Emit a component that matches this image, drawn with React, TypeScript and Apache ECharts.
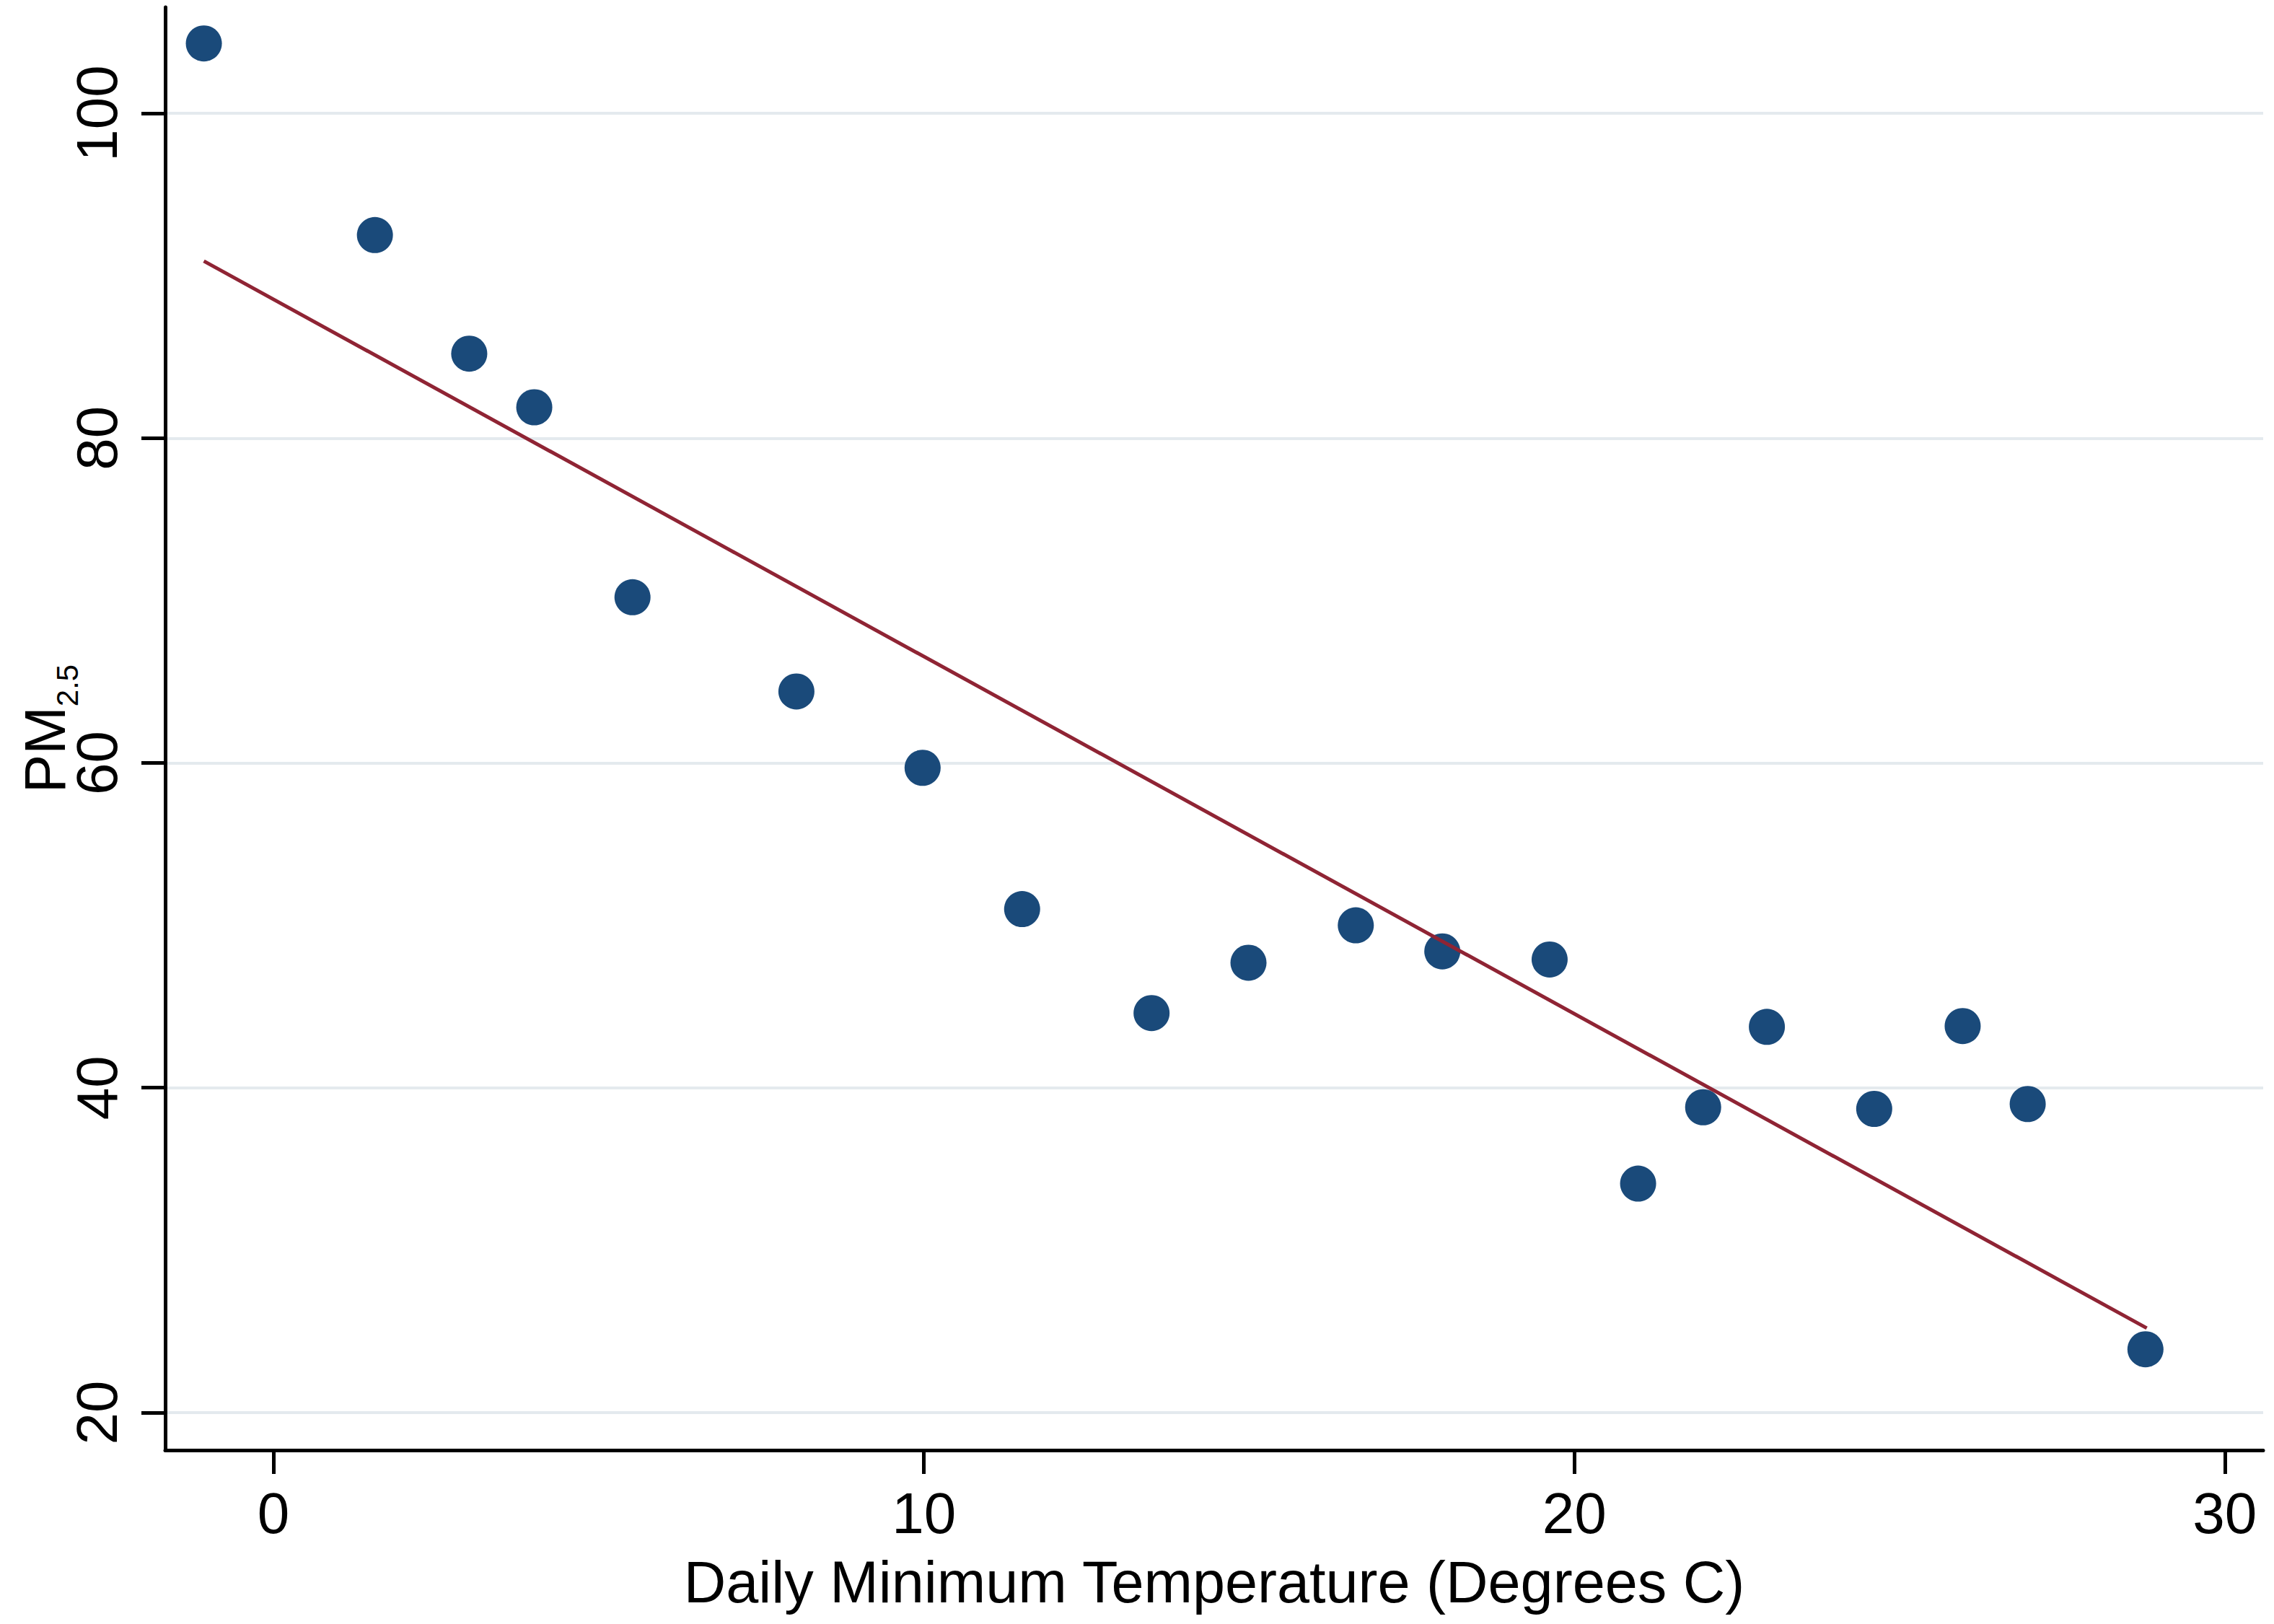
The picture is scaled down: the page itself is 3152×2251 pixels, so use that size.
import React, { useEffect, useRef } from "react";
import * as echarts from "echarts";

// Daily minimum temperature (°C) and PM2.5
const TEMP = [-1.07, 1.56, 3.01, 4.01, 5.52, 8.04, 9.98, 11.51, 13.5, 14.99, 16.64, 17.97, 19.62, 20.98, 21.98, 22.96, 24.61, 25.97, 26.97, 28.78];
const PM25 = [104.3, 92.5, 85.2, 81.9, 70.2, 64.4, 59.7, 51.0, 44.6, 47.7, 50.0, 48.4, 47.9, 34.1, 38.8, 43.75, 38.7, 43.8, 39.0, 23.9];

// Fitted line end points
const FIT_X = [-1.07, 28.8];
const FIT_Y = [90.9, 25.2];

// Tick labels
const X_TICKS = [0, 10, 20, 30];
const Y_TICKS = [20, 40, 60, 80, 100];

const X_MIN = -1.664;
const X_MAX = 30.59;
const Y_MIN = 17.69;
const Y_MAX = 106.53;

const FONT = "'Liberation Sans', Arial, Helvetica, sans-serif";

export default function App() {
  const ref = useRef<HTMLDivElement>(null);

  useEffect(() => {
    document.body.style.margin = "0";
    if (!ref.current) return;
    const chart = echarts.init(ref.current, null, { renderer: "svg" });
    const points = TEMP.map((t, i) => [t, PM25[i]]);
    const fit = FIT_X.map((x, i) => [x, FIT_Y[i]]);
    const fmt = (step: number) => (v: number) =>
      Math.abs(v / step - Math.round(v / step)) < 1e-6 ? String(Math.round(v)) : "";

    chart.setOption({
      animation: false,
      backgroundColor: "#ffffff",
      grid: { left: 229, right: 15, top: 10, bottom: 241, containLabel: false, outerBoundsMode: "none" },
      xAxis: {
        type: "value",
        min: X_MIN,
        max: X_MAX,
        name: "Daily Minimum Temperature (Degrees C)",
        nameLocation: "middle",
        nameGap: 142,
        nameMoveOverlap: false,
        nameTextStyle: { fontSize: 81, fontFamily: FONT, color: "#000" },
        axisLine: { show: true, onZero: false, lineStyle: { color: "#000", width: 5 } },
        axisTick: { show: true, length: 33, customValues: X_TICKS, lineStyle: { color: "#000", width: 5 } },
        axisLabel: {
          customValues: X_TICKS,
          margin: 47,
          fontSize: 80,
          fontFamily: FONT,
          color: "#000",
          hideOverlap: false,
          formatter: fmt(10),
        },
        splitLine: { show: false },
      },
      yAxis: {
        type: "value",
        min: Y_MIN,
        max: Y_MAX,
        name: "{a|PM}{b|2.5}",
        nameLocation: "middle",
        nameGap: 127,
        nameMoveOverlap: false,
        nameTextStyle: {
          fontFamily: FONT,
          color: "#000",
          rich: {
            a: { fontSize: 80, lineHeight: 80, fontFamily: FONT, color: "#000", verticalAlign: "top" },
            b: { fontSize: 42, lineHeight: 42, fontFamily: FONT, color: "#000", verticalAlign: "top", padding: [50, 0, 0, 0] },
          },
        },
        axisLine: { show: true, onZero: false, lineStyle: { color: "#000", width: 5 } },
        axisTick: { show: true, length: 33, customValues: Y_TICKS, lineStyle: { color: "#000", width: 5 } },
        axisLabel: {
          customValues: Y_TICKS,
          rotate: 90,
          margin: 55,
          fontSize: 80,
          fontFamily: FONT,
          color: "#000",
          hideOverlap: false,
          formatter: fmt(20),
        },
        splitLine: {
          show: true,
          lineStyle: { color: "#e4eaee", width: 4 },
        },
      },
      series: [
        {
          type: "scatter",
          data: points,
          symbol: "circle",
          symbolSize: 50,
          itemStyle: { color: "#1a4a7a", opacity: 1 },
          z: 2,
        },
        {
          type: "line",
          data: fit,
          showSymbol: false,
          symbol: "none",
          lineStyle: { color: "#8f2434", width: 5 },
          z: 3,
        },
      ],
    });
    return () => chart.dispose();
  }, []);

  return <div ref={ref} style={{ width: 3152, height: 2251 }} />;
}
